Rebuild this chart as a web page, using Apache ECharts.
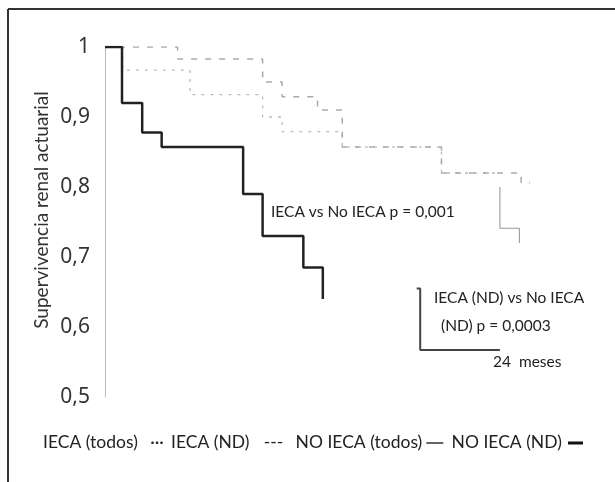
<!DOCTYPE html>
<html><head><meta charset="utf-8">
<script src="https://cdn.jsdelivr.net/npm/echarts@6/dist/echarts.min.js"></script>
<style>html,body{margin:0;padding:0;background:#fff}#c{width:615px;height:482px}</style>
</head><body><div id="c"></div>
<script>
// months since start, survival values
var noIecaNDx = [0, 0.96, 2.1, 3.2, 7.8, 8.9, 11.2, 12.3];
var noIecaNDy = [1, 0.92, 0.878, 0.857, 0.79, 0.73, 0.685, 0.64];
var iecaNDx = [0, 4.1, 8.9, 10.0, 12.0, 13.4, 19.0, 23.5, 24];
var iecaNDy = [1, 0.983, 0.95, 0.929, 0.91, 0.857, 0.82, 0.806, 0.806];
var iecaTodosx = [0, 1.0, 4.8, 8.9, 10.0, 13.4, 19.0, 22.3];
var iecaTodosy = [1, 0.967, 0.932, 0.9, 0.879, 0.857, 0.82, 0.82];
var noIecaTodosx = [22.3, 22.3, 23.4];
var noIecaTodosy = [0.8, 0.741, 0.72];
var bracketx = [17.6, 17.8, 22.3];
var brackety = [0.655, 0.567, 0.567];
var legendLabels = ['IECA (todos)', '\u00b7\u00b7\u00b7', 'IECA (ND)', '---', 'NO IECA (todos)', 'NO IECA (ND)'];

function pts(xs, ys){ return xs.map(function(x,i){return [x, ys[i]];}); }
var FONT = 'Lato';

// legend layout: measure text, distribute into span
var LFONT = '17.5px ' + FONT;
var cv = document.createElement('canvas').getContext('2d');
cv.font = LFONT;
var items = [
  {t:legendLabels[0]}, {g:12}, {t:legendLabels[1]}, {g:7}, {t:legendLabels[2]}, {g:14},
  {t:legendLabels[3]}, {g:12}, {t:legendLabels[4]}, {g:4}, {line:17, w:1.3}, {g:8},
  {t:legendLabels[5]}, {g:6}, {line:15, w:3}
];
var natural = 0, gapTotal = 0;
items.forEach(function(it){
  if (it.t) { it.w0 = cv.measureText(it.t).width; natural += it.w0; }
  else if (it.line) natural += it.line;
  else { natural += it.g; gapTotal += it.g; }
});
var spanL = 43, spanR = 583;
var k = Math.max(0.5, (spanR - spanL - (natural - gapTotal)) / gapTotal);
var legendGraphics = [];
var cx = spanL, LY = 442;
items.forEach(function(it){
  if (it.t) { legendGraphics.push({type:'text', x:cx, y:LY, style:{text:it.t, font:LFONT, fill:'#222', verticalAlign:'middle'}}); cx += it.w0; }
  else if (it.line) { legendGraphics.push({type:'line', shape:{x1:cx, y1:LY+1, x2:cx+it.line, y2:LY+1}, style:{stroke:'#111', lineWidth:it.w}}); cx += it.line; }
  else cx += it.g * k;
});

var chart = echarts.init(document.getElementById('c'));
chart.setOption({
  animation:false,
  backgroundColor:'#fff',
  grid:{left:105, right:85, top:47, bottom:85},
  xAxis:{type:'value', min:0, max:24, show:false},
  yAxis:{type:'value', min:0.5, max:1, interval:0.1,
    axisLine:{show:true, lineStyle:{color:'#bbb', width:1}},
    axisTick:{show:false}, splitLine:{show:false},
    axisLabel:{fontFamily:'Noto Sans', fontSize:21, color:'#333', margin:15,
      formatter:function(v){ var r=Math.round(v*10)/10; return r===1?'1':String(r).replace('.',','); }}
  },
  series:[
    {name:'IECA (todos)', type:'line', step:'end', symbol:'none', data:pts(iecaTodosx, iecaTodosy),
     lineStyle:{color:'#bbb', width:1.3, type:[3,6]}},
    {name:'IECA (ND)', type:'line', step:'end', symbol:'none', data:pts(iecaNDx, iecaNDy),
     lineStyle:{color:'#aaa', width:1.5, type:[6,8]}},
    {name:'NO IECA (todos)', type:'line', step:'end', symbol:'none', data:pts(noIecaTodosx, noIecaTodosy),
     lineStyle:{color:'#999', width:1.1}},
    {name:'NO IECA (ND)', type:'line', step:'end', symbol:'none', data:pts(noIecaNDx, noIecaNDy),
     lineStyle:{color:'#222', width:2.5}},
    {name:'bracket', type:'line', step:'end', symbol:'none', data:pts(bracketx, brackety),
     lineStyle:{color:'#444', width:2}}
  ],
  graphic:[
    {type:'line', shape:{x1:8,y1:9,x2:615,y2:9}, style:{stroke:'#333', lineWidth:2}},
    {type:'line', shape:{x1:8,y1:9,x2:8,y2:482}, style:{stroke:'#333', lineWidth:2}},
    {type:'text', x:42, y:210, rotation:Math.PI/2, style:{text:'Supervivencia renal actuarial', font:'19px '+FONT, fill:'#333', align:'center', verticalAlign:'middle'}},
    {type:'text', x:271, y:212, style:{text:'IECA vs No IECA p = 0,001', font:'15.5px '+FONT, fill:'#222', verticalAlign:'middle'}},
    {type:'text', x:434, y:298, style:{text:'IECA (ND) vs No IECA', font:'15.5px '+FONT, fill:'#222', verticalAlign:'middle'}},
    {type:'text', x:441, y:326, style:{text:'(ND) p = 0,0003', font:'15.5px '+FONT, fill:'#222', verticalAlign:'middle'}},
    {type:'text', x:493, y:362, style:{text:'24  meses', font:'15.5px '+FONT, fill:'#222', verticalAlign:'middle'}}
  ].concat(legendGraphics)
});
</script></body></html>
